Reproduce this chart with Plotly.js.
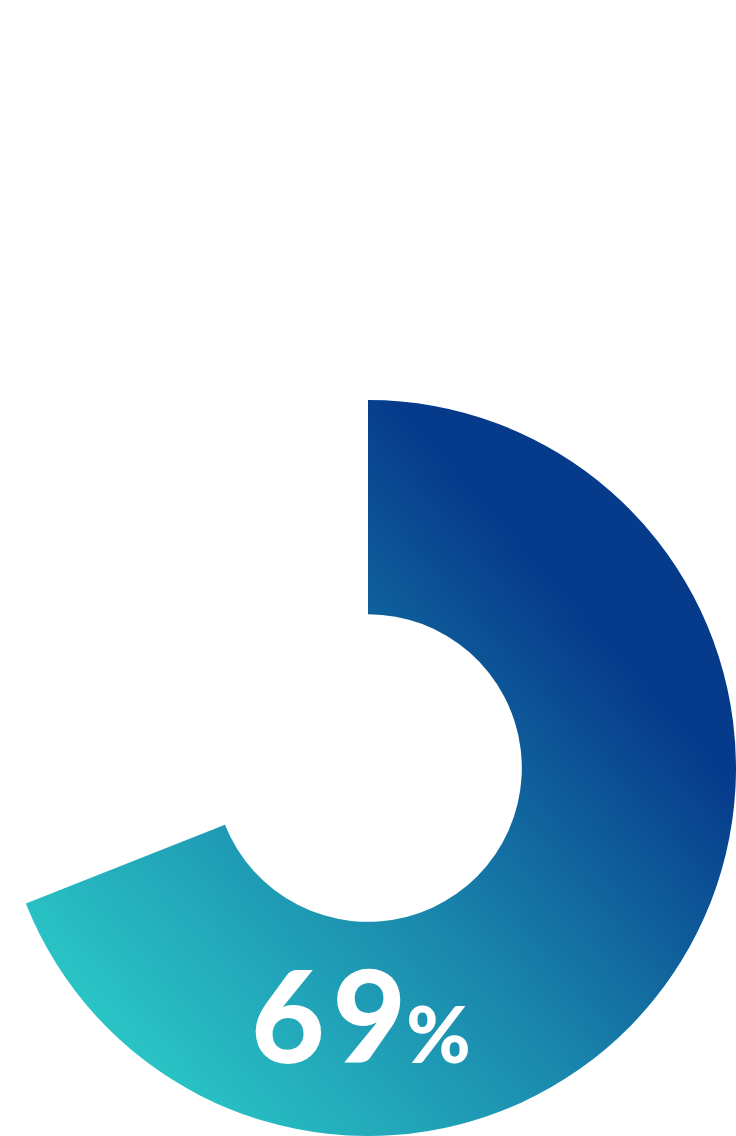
<!DOCTYPE html>
<html>
<head>
<meta charset="utf-8">
<script src="https://cdn.plot.ly/plotly-3.0.1.min.js"></script>
<style>
  html, body { margin: 0; padding: 0; background: #ffffff; }
  #chart { width: 736px; height: 1136px; }
</style>
</head>
<body>
<div id="chart"></div>
<script>
// share shown on the ring, rest left empty
const labels = ["Done", "Rest"];
const values = [69, 31];
const centerLabel = "69";

const CHART = document.getElementById('chart');

Plotly.newPlot(CHART, [
  {
    type: 'pie',
    labels: labels,
    values: values,
    hole: 0.418,
    sort: false,
    direction: 'clockwise',
    rotation: 0,
    textinfo: 'none',
    hoverinfo: 'skip',
    showlegend: false,
    domain: { x: [0, 1], y: [0, 736 / 1136] },
    marker: {
      colors: ['#063a8b', 'rgba(255,255,255,0)'],
      line: { width: 0 }
    }
  }
],
{
  width: 736,
  height: 1136,
  margin: { l: 0, r: 0, t: 0, b: 0 },
  paper_bgcolor: '#ffffff',
  plot_bgcolor: '#ffffff',
  annotations: [
    {
      xref: 'paper', yref: 'paper',
      x: 0.490, y: 0.107,
      xanchor: 'center', yanchor: 'middle',
      showarrow: false,
      text: centerLabel.split('').join('\u200a') + '<span style="font-size:78px">%</span>',
      font: { family: 'Lato, "Open Sans", sans-serif', size: 127, weight: 900, color: '#ffffff' }
    }
  ]
},
{ staticPlot: true, displayModeBar: false }
).then(gd => {
  // plotly has no gradient fills, so patch the first slice
  const svg = gd.querySelector('.main-svg');
  const NS = 'http://www.w3.org/2000/svg';
  let defs = svg.querySelector('defs');
  if (!defs) { defs = document.createElementNS(NS, 'defs'); svg.insertBefore(defs, svg.firstChild); }
  const grad = document.createElementNS(NS, 'linearGradient');
  grad.setAttribute('id', 'ringGrad');
  grad.setAttribute('x1', '0.17'); grad.setAttribute('y1', '0.93');
  grad.setAttribute('x2', '0.82'); grad.setAttribute('y2', '0.33');
  [['0', '#2ac6c6'], ['0.5', '#1a88ad'], ['1', '#063a8b']].forEach(([o, c]) => {
    const s = document.createElementNS(NS, 'stop');
    s.setAttribute('offset', o);
    s.setAttribute('stop-color', c);
    grad.appendChild(s);
  });
  defs.appendChild(grad);
  const slice = gd.querySelector('.slice path.surface');
  if (slice) slice.style.fill = 'url(#ringGrad)';
});
</script>
</body>
</html>
